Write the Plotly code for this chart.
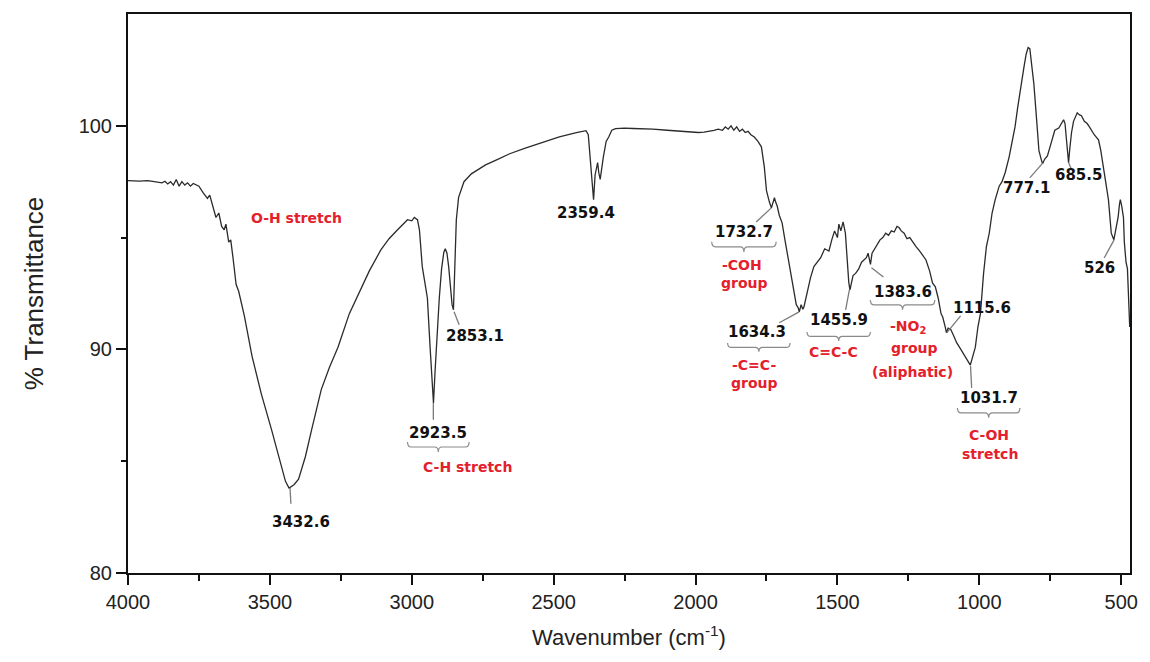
import plotly.graph_objects as go

# ---------------- data ----------------
wavenumber = [
    4000, 3960, 3930, 3900, 3880, 3870, 3860, 3850, 3840, 3830, 3820, 3810, 3800, 3790, 3780, 3770,
    3750, 3735, 3720, 3712, 3700, 3690, 3680, 3670, 3661, 3655, 3645, 3638, 3630, 3619, 3610, 3602,
    3590, 3563, 3530, 3494, 3465, 3445, 3432.6, 3415, 3399, 3375, 3353, 3335, 3319, 3290, 3260, 3220,
    3190, 3150, 3109, 3080, 3050, 3030, 3015, 3000, 2991, 2980, 2973, 2963, 2952, 2945, 2935, 2928,
    2923.5, 2918, 2910, 2903, 2895, 2887, 2882, 2876, 2870, 2864, 2858, 2853.1, 2848, 2843, 2835, 2816,
    2790, 2771, 2740, 2701, 2655, 2600, 2537, 2480, 2420, 2386, 2378, 2370, 2362, 2359.4, 2354, 2350,
    2345, 2341, 2336, 2325, 2315, 2306, 2295, 2282, 2250, 2220, 2187, 2150, 2100, 2050, 2013, 1990,
    1970, 1953, 1935, 1920, 1905, 1895, 1885, 1875, 1865, 1855, 1845, 1835, 1825, 1815, 1805, 1793,
    1780, 1768, 1762, 1758, 1750, 1745, 1740, 1732.7, 1727, 1722, 1718, 1712, 1705, 1695, 1685, 1677,
    1665, 1653, 1645, 1638, 1634.3, 1628, 1622, 1618, 1605, 1595, 1583, 1570, 1559, 1545, 1530, 1520,
    1510, 1500, 1495, 1488, 1480, 1472, 1466, 1460, 1455.9, 1450, 1445, 1436, 1425, 1415, 1405, 1398,
    1392, 1388, 1383.6, 1378, 1365, 1350, 1340, 1330, 1320, 1310, 1300, 1290, 1283, 1275, 1265, 1255,
    1245, 1235, 1223, 1210, 1200, 1188, 1175, 1165, 1155, 1145, 1135, 1129, 1120, 1115.6, 1110, 1101,
    1090, 1080, 1070, 1055, 1045, 1035, 1031.7, 1025, 1014, 1005, 996, 985, 975, 965, 955, 944,
    930, 920, 909, 895, 885, 874, 865, 855, 843, 835, 828, 822, 815, 808, 800, 790,
    782, 777.1, 770, 760, 752, 745, 734, 720, 710, 703, 698, 693, 688, 685.5, 681, 675,
    668, 660, 655, 648, 640, 630, 620, 612, 605, 595, 585, 580, 572, 563, 555, 545,
    535, 528, 526, 520, 511, 506, 503, 498, 492, 489, 483, 478, 474, 470,
]
transmittance = [
    97.55, 97.53, 97.55, 97.50, 97.45, 97.52, 97.40, 97.50, 97.35, 97.60, 97.30, 97.50, 97.35, 97.45, 97.30, 97.42,
    97.30, 97.00, 96.75, 96.90, 96.30, 95.90, 96.10, 95.50, 95.35, 95.60, 94.80, 94.90, 94.10, 92.90, 92.60, 92.20,
    91.50, 89.70, 88.00, 86.40, 85.00, 84.10, 83.80, 83.95, 84.20, 85.20, 86.40, 87.40, 88.20, 89.20, 90.10, 91.60,
    92.40, 93.50, 94.45, 94.95, 95.35, 95.60, 95.80, 95.75, 95.90, 95.80, 95.35, 93.70, 92.80, 92.30, 90.00, 88.30,
    87.60, 89.00, 91.00, 92.30, 93.60, 94.35, 94.50, 94.30, 93.70, 92.80, 92.00, 91.77, 93.50, 95.80, 96.80, 97.50,
    97.85, 98.00, 98.25, 98.48, 98.75, 99.00, 99.28, 99.50, 99.70, 99.78, 99.60, 98.20, 96.90, 96.70, 97.80, 98.10,
    98.35, 97.90, 97.60, 98.60, 99.30, 99.50, 99.80, 99.87, 99.90, 99.88, 99.87, 99.85, 99.80, 99.75, 99.70, 99.70,
    99.72, 99.75, 99.80, 99.85, 99.80, 99.95, 99.85, 100.00, 99.80, 99.95, 99.75, 99.85, 99.70, 99.75, 99.60, 99.50,
    99.30, 99.06, 98.60, 98.20, 97.10, 96.80, 96.60, 96.33, 96.60, 96.78, 96.60, 96.40, 96.00, 95.66, 94.90, 94.30,
    93.30, 92.50, 92.00, 91.85, 91.68, 92.00, 91.80, 91.90, 92.70, 93.20, 93.70, 93.90, 94.10, 94.50, 94.40, 94.90,
    95.30, 95.00, 95.60, 95.30, 95.70, 95.20, 94.00, 93.00, 92.66, 93.00, 93.30, 93.40, 93.60, 93.90, 94.00, 94.10,
    94.30, 94.00, 93.80, 94.30, 94.60, 94.90, 95.00, 95.20, 95.10, 95.30, 95.25, 95.50, 95.45, 95.30, 95.20, 94.95,
    95.00, 94.80, 94.60, 94.40, 94.20, 94.00, 93.50, 92.97, 92.80, 92.30, 91.60, 91.45, 91.00, 90.74, 90.95, 90.90,
    90.60, 90.30, 90.10, 89.80, 89.55, 89.40, 89.30, 89.60, 90.10, 91.00, 91.60, 93.40, 94.60, 95.20, 96.10, 96.70,
    97.30, 97.50, 97.90, 98.60, 99.30, 99.96, 100.80, 101.70, 102.60, 103.20, 103.50, 103.45, 102.80, 101.90, 100.60, 98.90,
    98.50, 98.30, 98.50, 98.65, 99.00, 99.30, 99.80, 99.90, 100.10, 100.27, 100.10, 99.50, 98.60, 98.35, 99.00, 99.70,
    100.20, 100.45, 100.58, 100.50, 100.45, 100.20, 100.10, 99.95, 99.80, 99.60, 99.45, 99.37, 98.90, 98.17, 97.60, 96.70,
    95.20, 95.00, 94.90, 95.30, 95.90, 96.50, 96.70, 96.40, 95.90, 94.80, 93.90, 93.60, 92.00, 91.00,
]

x_tick_vals = [4000, 3500, 3000, 2500, 2000, 1500, 1000, 500]
x_tick_text = ["4000", "3500", "3000", "2500", "2000", "1500", "1000", "500"]
y_tick_vals = [80, 90, 100]
y_tick_text = ["80", "90", "100"]

# peak labels: text, label x, label y, leader (x0, y0, x1, y1)
peak_labels = [
    ("3432.6", 3389, 82.28, (3429, 83.8, 3426, 83.1)),
    ("2923.5", 2907, 86.26, (2924, 87.6, 2924, 86.85)),
    ("2853.1", 2778, 90.62, (2851, 91.68, 2833, 91.1)),
    ("2359.4", 2386, 96.10, None),
    ("1732.7", 1828, 95.26, (1733, 96.33, 1786, 95.7)),
    ("1634.3", 1782, 90.78, (1635, 91.68, 1705, 91.19)),
    ("1455.9", 1496, 91.32, (1458, 92.66, 1471, 91.77)),
    ("1383.6", 1269, 92.57, (1380, 93.65, 1338, 93.24)),
    ("1115.6", 990, 91.86, (1115, 90.74, 1066, 91.5)),
    ("1031.7", 965, 87.83, (1031, 89.26, 1027, 88.28)),
    ("777.1", 832, 97.23, (776, 98.34, 822, 97.67)),
    ("685.5", 650, 97.81, (685, 98.35, 675, 98.03)),
    ("526", 577, 93.65, (525, 94.9, 560, 94.09)),
]

# group label lines (red): text, x, y
group_labels = [
    ("O-H stretch", 3406, 95.88),
    ("C-H stretch", 2805, 84.74),
    ("-COH", 1838, 93.78),
    ("group", 1828, 92.97),
    ("-C=C-", 1793, 89.31),
    ("group", 1793, 88.50),
    ("C=C-C", 1513, 89.89),
    ("-NO<sub>2</sub>", 1251, 91.00),
    ("group", 1227, 90.07),
    ("(aliphatic)", 1234, 88.99),
    ("C-OH", 965, 86.17),
    ("stretch", 961, 85.32),
]

# braces: x start, x end, top y, bottom y
braces = [
    (3015, 2798, 85.86, 85.41),
    (1943, 1716, 94.81, 94.36),
    (1887, 1667, 90.29, 89.89),
    (1607, 1384, 90.78, 90.38),
    (1384, 1157, 92.21, 91.77),
    (1077, 857, 87.38, 86.94),
]

# ---------------- figure ----------------
fig = go.Figure()
fig.add_trace(go.Scatter(
    x=wavenumber, y=transmittance, mode="lines",
    line=dict(color="#2b2b2b", width=1.3), hoverinfo="x+y", showlegend=False,
))

annotations = []
shapes = []
num_font = dict(family="DejaVu Sans, Verdana, sans-serif", size=15, color="#111111")
red_font = dict(family="DejaVu Sans, Verdana, sans-serif", size=14, color="#e3202b")

for text, lx, ly, leader in peak_labels:
    annotations.append(dict(x=lx, y=ly, text=f"<b>{text}</b>", showarrow=False,
                            font=num_font, xanchor="center", yanchor="middle"))
    if leader is not None:
        x0, y0, x1, y1 = leader
        shapes.append(dict(type="line", x0=x0, y0=y0, x1=x1, y1=y1, xref="x", yref="y",
                           line=dict(color="#7a7a7a", width=1.3)))

for text, gx, gy in group_labels:
    annotations.append(dict(x=gx, y=gy, text=f"<b>{text}</b>", showarrow=False,
                            font=red_font, xanchor="center", yanchor="middle", align="center"))

for xa, xb, yt, yb in braces:
    xm = (xa + xb) / 2
    ymid = (yt + yb) / 2
    dx = (xb - xa) * 0.06
    path = (f"M {xa},{yt} Q {xa},{ymid} {xa + dx},{ymid} "
            f"L {xm - dx},{ymid} Q {xm},{ymid} {xm},{yb} "
            f"Q {xm},{ymid} {xm + dx},{ymid} "
            f"L {xb - dx},{ymid} Q {xb},{ymid} {xb},{yt}")
    shapes.append(dict(type="path", path=path, xref="x", yref="y",
                       line=dict(color="#8a8a8a", width=1.2)))

axis_font = dict(family="Liberation Sans, Arial, sans-serif", size=20, color="#222222")
xtitle_font = dict(family="Liberation Sans, Arial, sans-serif", size=22, color="#222222")
ytitle_font = dict(family="Liberation Sans, Arial, sans-serif", size=26, color="#222222")

fig.update_layout(
    width=1150, height=662,
    margin=dict(l=128, r=12, t=14, b=89),
    paper_bgcolor="white", plot_bgcolor="white",
    annotations=annotations, shapes=shapes,
    xaxis=dict(
        range=[4000, 469], autorange=False,
        tickmode="array", tickvals=x_tick_vals, ticktext=x_tick_text,
        ticks="outside", ticklen=10, tickwidth=2, tickcolor="#111",
        minor=dict(dtick=250, tick0=4000, ticks="outside", ticklen=6, tickwidth=2, tickcolor="#111"),
        showline=True, linewidth=2, linecolor="#111", mirror=True,
        showgrid=False, zeroline=False, tickfont=axis_font,
        title=dict(text="Wavenumber (cm<sup>-1</sup>)", font=xtitle_font, standoff=18),
    ),
    yaxis=dict(
        range=[80, 105], autorange=False,
        tickmode="array", tickvals=y_tick_vals, ticktext=y_tick_text,
        ticks="outside", ticklen=10, tickwidth=2, tickcolor="#111",
        minor=dict(tickvals=[85, 95], ticks="outside", ticklen=5, tickwidth=2, tickcolor="#111"),
        showline=True, linewidth=2, linecolor="#111", mirror=True,
        showgrid=False, zeroline=False, tickfont=axis_font,
        title=dict(text="% Transmittance", font=ytitle_font, standoff=28),
    ),
)

fig.write_html("out.html")
